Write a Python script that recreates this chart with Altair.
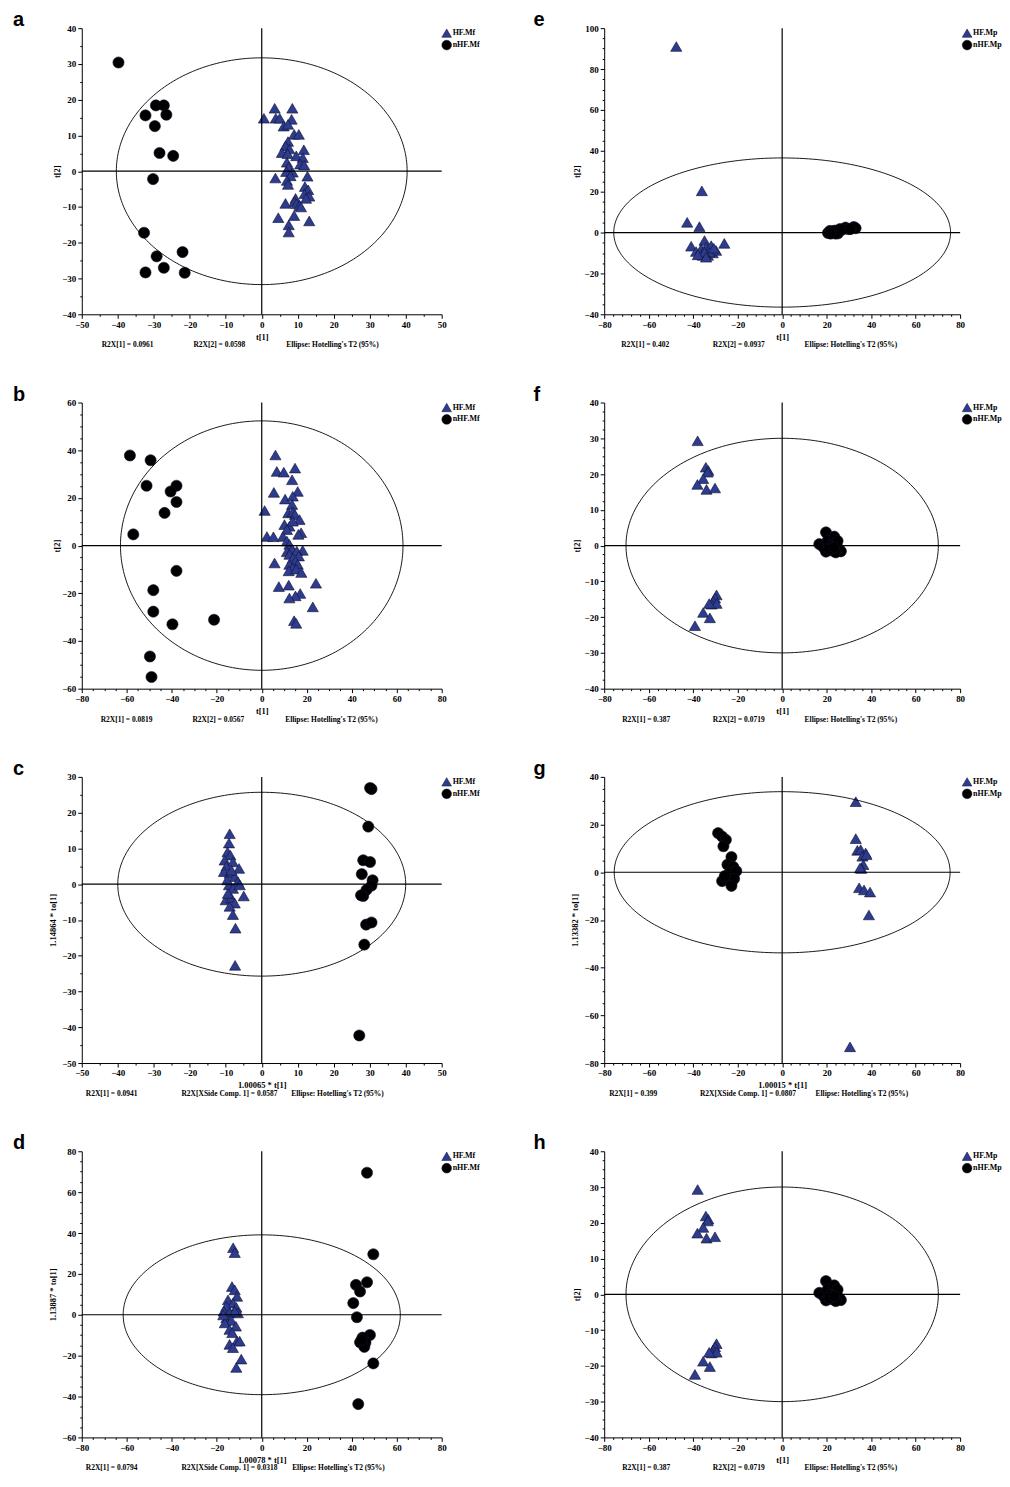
import altair as alt
import numpy as np
import pandas as pd

# ---------------- data ----------------
A_HF_X = [0.6, 3.6, 8.5, 3.9, 5.0, 8.3, 6.1, 7.3, 9.0, 10.3, 7.3, 6.6, 7.7, 11.7, 5.6, 7.2, 9.6, 11.4, 7.0, 10.7, 11.8, 7.5, 6.8, 8.6, 3.8, 8.0, 12.7, 7.0, 7.3, 12.0, 12.9, 11.9, 13.2, 12.3, 9.4, 9.1, 6.6, 9.7, 10.5, 10.9, 4.6, 9.0, 13.2, 7.5, 7.5]
A_HF_Y = [14.8, 17.6, 17.6, 14.8, 14.8, 14.5, 12.6, 13.1, 10.3, 10.3, 8.3, 7.1, 6.2, 6.0, 5.2, 4.9, 4.3, 3.8, 2.5, 2.0, 1.7, 1.1, -0.1, -0.3, -1.9, -1.3, -1.4, -2.6, -3.7, -4.3, -5.2, -6.3, -7.0, -7.6, -7.6, -8.5, -9.0, -9.1, -9.6, -10.0, -13.0, -12.4, -13.9, -15.0, -17.0]
A_NHF_X = [-39.8, -29.4, -27.2, -32.3, -26.5, -29.7, -28.4, -24.6, -30.2, -32.7, -29.2, -22.0, -32.3, -27.2, -21.4]
A_NHF_Y = [30.4, 18.4, 18.4, 15.6, 15.8, 12.6, 5.1, 4.3, -2.2, -17.2, -23.8, -22.6, -28.3, -27.0, -28.4]

B_HF_X = [6.1, 6.7, 9.8, 14.8, 13.5, 5.4, 16.0, 10.4, 13.8, 13.5, 1.3, 11.8, 13.8, 14.8, 16.8, 10.1, 12.3, 13.8, 11.2, 17.5, 16.3, 2.3, 5.2, 9.4, 11.2, 12.3, 18.2, 11.2, 13.5, 15.6, 12.3, 16.5, 13.8, 15.0, 5.7, 12.3, 16.0, 13.8, 12.0, 15.3, 17.6, 24.1, 7.6, 12.0, 17.1, 15.0, 12.3, 22.7, 14.4, 15.3]
B_HF_Y = [38.0, 31.1, 30.8, 32.5, 27.6, 22.3, 22.7, 19.5, 20.7, 17.2, 14.7, 13.7, 14.1, 13.0, 10.9, 8.8, 8.1, 10.2, 6.7, 5.4, 4.7, 3.8, 3.7, 3.8, 1.9, 0.5, -2.0, -2.6, -1.6, -2.3, -3.7, -4.4, -5.4, -6.5, -7.3, -7.9, -7.9, -9.3, -10.6, -9.9, -11.3, -15.8, -17.2, -16.6, -20.1, -21.1, -22.0, -25.7, -31.5, -32.6]
B_NHF_X = [-58.6, -49.4, -51.2, -37.9, -40.5, -37.9, -43.2, -57.1, -37.9, -48.2, -48.2, -39.7, -21.2, -49.7, -49.0]
B_NHF_Y = [37.8, 35.8, 25.1, 25.1, 22.7, 18.3, 13.7, 4.7, -10.6, -18.7, -27.7, -33.0, -31.1, -46.5, -55.1]

C_HF_X = [-8.9, -9.1, -9.5, -8.7, -10.3, -8.0, -9.8, -6.3, -10.5, -8.9, -7.5, -6.6, -9.1, -8.0, -6.1, -5.0, -10.0, -8.4, -7.5, -8.9, -8.0, -7.3, -7.4, -9.6, -8.4, -9.4]
C_HF_Y = [14.1, 11.5, 9.0, 8.1, 6.7, 6.2, 5.0, 4.4, 3.5, 3.0, 2.1, 0.7, -0.2, -1.2, -0.2, -3.3, -4.4, -3.9, -5.3, -6.2, -8.5, -12.3, -22.7, 1.2, 3.9, -2.6]
C_NHF_X = [30.5, 30.1, 29.6, 28.2, 30.1, 27.8, 30.8, 30.5, 29.1, 28.2, 27.6, 29.0, 30.5, 28.5, 27.1]
C_NHF_Y = [26.6, 26.9, 16.1, 6.7, 6.2, 2.8, 1.1, -0.4, -1.6, -3.3, -3.1, -11.3, -10.7, -16.9, -42.3]

D_HF_X = [-12.7, -12.0, -13.2, -12.0, -11.0, -15.0, -12.8, -15.7, -11.3, -16.9, -14.3, -10.6, -15.7, -13.5, -16.4, -11.5, -14.3, -13.1, -11.0, -14.3, -9.8, -12.8, -9.1, -11.3, -17.1, -12.0]
D_HF_Y = [32.8, 30.4, 13.8, 12.2, 9.0, 7.3, 5.7, 4.1, 3.6, 1.7, 0.9, 0.9, -1.5, -2.8, -4.0, -5.6, -7.2, -8.8, -12.9, -14.5, -12.9, -16.1, -21.7, -25.8, -0.1, 1.7]
D_NHF_X = [46.8, 49.6, 46.8, 41.9, 43.7, 40.7, 42.3, 48.1, 44.8, 43.7, 46.1, 45.6, 49.6, 42.9, 44.4]
D_NHF_Y = [69.5, 29.6, 15.9, 14.6, 11.4, 5.7, -1.2, -9.9, -11.2, -13.5, -13.6, -15.7, -23.8, -43.7, -12.3]

E_HF_X = [-47.6, -36.1, -42.7, -37.2, -40.9, -34.9, -26.0, -38.7, -36.4, -34.2, -31.9, -35.7, -33.4, -31.2, -29.7, -32.7, -34.9, -37.9, -34.2, -30.7]
E_HF_Y = [91.0, 20.4, 5.0, 2.9, -6.7, -3.9, -5.3, -9.3, -8.0, -7.2, -6.4, -11.2, -11.2, -10.0, -8.8, -9.6, -9.6, -10.9, -12.1, -7.7]
E_NHF_X = [20.6, 21.5, 22.5, 23.6, 24.8, 26.0, 25.1, 24.0, 28.5, 29.7, 32.2, 33.0, 21.8, 27.0, 30.7]
E_NHF_Y = [-0.2, 0.8, 0.1, 0.9, 0.6, 1.7, -0.4, -0.5, 2.4, 1.7, 2.7, 2.1, -0.5, 1.4, 1.7]

F_HF_X = [-38.0, -34.3, -33.2, -33.5, -35.5, -38.1, -34.0, -30.2, -29.5, -30.2, -31.0, -31.7, -29.5, -35.5, -32.5, -39.2, -32.8]
F_HF_Y = [29.3, 21.9, 21.0, 20.5, 18.7, 17.1, 15.7, 16.1, -13.8, -14.7, -15.6, -16.4, -16.2, -18.7, -20.2, -22.4, -16.2]
F_NHF_X = [19.7, 16.7, 18.6, 20.4, 21.9, 23.4, 24.1, 22.6, 25.6, 26.4, 19.7, 24.1, 21.2, 24.9, 23.4]
F_NHF_Y = [3.7, 0.4, -0.5, 1.3, 0.0, 2.5, 0.4, -1.4, -1.0, -1.6, -1.7, -1.9, -1.0, 1.3, -0.5]

G_HF_X = [33.1, 33.1, 33.8, 35.3, 37.5, 36.1, 36.5, 35.6, 34.6, 36.8, 39.5, 39.0, 30.5, 37.9, 35.0]
G_HF_Y = [29.6, 14.1, 9.2, 9.5, 8.1, 6.7, 3.2, 1.6, -6.5, -7.4, -8.3, -17.9, -73.2, 7.4, 1.8]
G_NHF_X = [-28.8, -27.0, -25.3, -26.4, -22.8, -24.6, -22.0, -23.5, -20.6, -27.0, -25.0, -22.8, -21.6, -22.8, -25.8]
G_NHF_Y = [16.4, 15.0, 13.6, 10.9, 6.4, 3.2, 2.3, -0.2, 0.5, -3.7, -3.0, -4.4, -2.7, -5.7, -1.6]

H_HF_X = [-38.0, -34.3, -33.2, -33.5, -35.5, -38.1, -34.0, -30.2, -29.5, -30.2, -31.0, -31.7, -29.5, -35.5, -32.5, -39.2, -32.8]
H_HF_Y = [29.3, 21.9, 21.0, 20.5, 18.7, 17.1, 15.7, 16.1, -13.8, -14.7, -15.6, -16.4, -16.2, -18.7, -20.2, -22.4, -16.2]
H_NHF_X = [19.7, 16.7, 18.6, 20.4, 21.9, 23.4, 24.1, 22.6, 25.6, 26.4, 19.7, 24.1, 21.2, 24.9, 23.4]
H_NHF_Y = [3.7, 0.4, -0.5, 1.3, 0.0, 2.5, 0.4, -1.4, -1.0, -1.6, -1.7, -1.9, -1.0, 1.3, -0.5]

GROUPS_MF = ["HF.Mf", "nHF.Mf"]
GROUPS_MP = ["HF.Mp", "nHF.Mp"]

# Hotelling's T2 (95%) ellipse semi-axes per panel
ELLIPSE = {"a": (40.4, 31.7), "b": (62.8, 52.3), "c": (40.0, 25.7), "d": (61.6, 39.1),
           "e": (75.7, 36.5), "f": (70.2, 30.0), "g": (75.5, 33.8), "h": (70.2, 30.0)}

ELL_TXT = "Ellipse: Hotelling's T2 (95%)"
FOOTERS = {
    "a": ["R2X[1] = 0.0961", "R2X[2] = 0.0598", ELL_TXT],
    "b": ["R2X[1] = 0.0819", "R2X[2] = 0.0567", ELL_TXT],
    "c": ["R2X[1] = 0.0941", "R2X[XSide Comp. 1] = 0.0587", ELL_TXT],
    "d": ["R2X[1] = 0.0794", "R2X[XSide Comp. 1] = 0.0318", ELL_TXT],
    "e": ["R2X[1] = 0.402", "R2X[2] = 0.0937", ELL_TXT],
    "f": ["R2X[1] = 0.387", "R2X[2] = 0.0719", ELL_TXT],
    "g": ["R2X[1] = 0.399", "R2X[XSide Comp. 1] = 0.0807", ELL_TXT],
    "h": ["R2X[1] = 0.387", "R2X[2] = 0.0719", ELL_TXT],
}

BLUE = "#2D3C8E"
SERIF = "Liberation Serif"
SANS = "Liberation Sans"
H = 287

AXIS_STYLE = dict(
    labelFont=SERIF, labelFontWeight="bold", labelFontSize=9, labelColor="black",
    titleFont=SERIF, titleFontWeight="bold", titleFontSize=8.5, titleColor="black",
    domainColor="black", domainWidth=1, tickColor="black", tickWidth=1,
    grid=False, labelOverlap=False, labelFlush=False,
)


def ticks(lo, hi, step):
    n = int(round((hi - lo) / step))
    return [round(lo + i * step, 4) for i in range(n + 1)]


def major_axis(lo, hi, major, title, orient, title_pos):
    kw = dict(AXIS_STYLE)
    kw.update(values=ticks(lo, hi, major), tickSize=4, labelPadding=2, title=title,
              orient=orient, titleBaseline="middle")
    if orient == "bottom":
        kw.update(titleY=title_pos)
    else:
        kw.update(titleX=title_pos, titleY=H / 2)
    return alt.Axis(**kw)


def minor_axis(lo, hi, major, minor, orient):
    vals = [v for v in ticks(lo, hi, minor) if abs(v / major - round(v / major)) > 1e-6]
    return alt.Axis(values=vals, tickSize=2, tickColor="black", tickWidth=1, labels=False,
                    domain=False, grid=False, title=None, orient=orient)


def panel(letter, groups, hx, hy, nx, ny, xdom, xmaj, xmin, ydom, ymaj, ymin,
          xtitle, ytitle, ytx, fx, width, letter_dx, legend_x):
    rx, ry = ELLIPSE[letter]
    pts = pd.DataFrame({
        "x": hx + nx, "y": hy + ny,
        "group": [groups[0]] * len(hx) + [groups[1]] * len(nx),
    })
    th = np.linspace(0, 2 * np.pi, 241)
    ell = pd.DataFrame({"x": rx * np.cos(th), "y": ry * np.sin(th), "i": np.arange(len(th))})

    xs = alt.Scale(domain=list(xdom), nice=False, zero=False)
    ys = alt.Scale(domain=list(ydom), nice=False, zero=False)

    points = alt.Chart(pts).mark_point(filled=True, size=125, opacity=1,
                                       stroke="#101030", strokeWidth=0.6).encode(
        x=alt.X("x:Q", scale=xs, axis=major_axis(xdom[0], xdom[1], xmaj, xtitle, "bottom", 22)),
        y=alt.Y("y:Q", scale=ys, axis=major_axis(ydom[0], ydom[1], ymaj, ytitle, "left", ytx)),
        color=alt.Color("group:N", scale=alt.Scale(domain=groups, range=[BLUE, "black"]), legend=None),
        shape=alt.Shape("group:N", scale=alt.Scale(domain=groups, range=["triangle-up", "circle"]), legend=None),
    )
    ellipse = alt.Chart(ell).mark_line(color="black", strokeWidth=0.9).encode(
        x=alt.X("x:Q", scale=xs, axis=minor_axis(xdom[0], xdom[1], xmaj, xmin, "bottom")),
        y=alt.Y("y:Q", scale=ys, axis=minor_axis(ydom[0], ydom[1], ymaj, ymin, "left")),
        order="i:Q",
    )
    vrule = alt.Chart(pd.DataFrame({"v": [0]})).mark_rule(color="black", strokeWidth=1.2).encode(
        x=alt.X("v:Q", scale=xs, axis=None))
    hrule = alt.Chart(pd.DataFrame({"v": [0]})).mark_rule(color="black", strokeWidth=1.2).encode(
        y=alt.Y("v:Q", scale=ys, axis=None))

    # legend (symbol + label per group)
    leg_layers = []
    for k, (g, shp, col) in enumerate(zip(groups, ["triangle-up", "circle"], [BLUE, "black"])):
        gdf = pd.DataFrame({"g": [g]})
        leg_layers.append(alt.Chart(gdf).mark_point(
            shape=shp, filled=True, size=95, color=col, opacity=1, stroke="#101030", strokeWidth=0.5
        ).encode(x=alt.value(legend_x + 5), y=alt.value(5 + 12 * k)))
        leg_layers.append(alt.Chart(gdf).mark_text(
            font=SERIF, fontSize=8, fontWeight="bold", align="left", baseline="middle", color="black"
        ).encode(text="g:N", x=alt.value(legend_x + 11), y=alt.value(5 + 12 * k)))

    lab = alt.Chart(pd.DataFrame({"t": [letter]})).mark_text(
        font=SANS, fontSize=20, fontWeight="bold", align="left", baseline="alphabetic", color="black"
    ).encode(text="t:N", x=alt.value(letter_dx), y=alt.value(-2))

    layers = [points, ellipse, vrule, hrule, lab] + leg_layers
    for txt, px in zip(FOOTERS[letter], fx):
        layers.append(
            alt.Chart(pd.DataFrame({"t": [txt]})).mark_text(
                font=SERIF, fontSize=7.5, fontWeight="bold", align="left", baseline="middle", color="black"
            ).encode(text="t:N", x=alt.value(px), y=alt.value(H + 31))
        )
    return alt.layer(*layers).resolve_axis(x="independent", y="independent").properties(width=width, height=H)


WL, WR = 361, 357

pa = panel("a", GROUPS_MF, A_HF_X, A_HF_Y, A_NHF_X, A_NHF_Y, (-50, 50), 10, 5, (-40, 40), 10, 5,
           "t[1]", "t[2]", -25, [20, 112, 205], WL, -69, 361)
pb = panel("b", GROUPS_MF, B_HF_X, B_HF_Y, B_NHF_X, B_NHF_Y, (-80, 80), 20, 5, (-60, 60), 20, 5,
           "t[1]", "t[2]", -25, [19, 111, 204], WL, -69, 361)
pc = panel("c", GROUPS_MF, C_HF_X, C_HF_Y, C_NHF_X, C_NHF_Y, (-50, 50), 10, 5, (-50, 30), 10, 5,
           "1.00065 * t[1]", "1.14864 * to[1]", -29, [4, 100, 210], WL, -69, 361)
pd_ = panel("d", GROUPS_MF, D_HF_X, D_HF_Y, D_NHF_X, D_NHF_Y, (-80, 80), 20, 5, (-60, 80), 20, 5,
            "1.00078 * t[1]", "1.13887 * to[1]", -29, [4, 100, 211], WL, -69, 361)
pe = panel("e", GROUPS_MP, E_HF_X, E_HF_Y, E_NHF_X, E_NHF_Y, (-80, 80), 20, 4, (-40, 100), 20, 5,
           "t[1]", "t[2]", -28, [17, 109, 201], WR, -71, 359)
pf = panel("f", GROUPS_MP, F_HF_X, F_HF_Y, F_NHF_X, F_NHF_Y, (-80, 80), 20, 4, (-40, 40), 10, 2.5,
           "t[1]", "t[2]", -28, [18, 109, 201], WR, -71, 359)
pg = panel("g", GROUPS_MP, G_HF_X, G_HF_Y, G_NHF_X, G_NHF_Y, (-80, 80), 20, 4, (-80, 40), 20, 5,
           "1.00015 * t[1]", "1.13382 * to[1]", -30, [5, 96, 212], WR, -71, 359)
ph = panel("h", GROUPS_MP, H_HF_X, H_HF_Y, H_NHF_X, H_NHF_Y, (-80, 80), 20, 4, (-40, 40), 10, 2.5,
           "t[1]", "t[2]", -28, [18, 109, 201], WR, -71, 359)

chart = alt.concat(
    pa, pe, pb, pf, pc, pg, pd_, ph,
    columns=2, spacing={"row": 88.5, "column": 163}, bounds="flush",
).resolve_scale(color="independent", shape="independent").properties(
    padding={"left": 5, "top": 0, "right": 0, "bottom": 0}, background="white"
).configure_view(stroke=None)

chart.save("out.html", embed_options={"renderer": "svg", "actions": False})
